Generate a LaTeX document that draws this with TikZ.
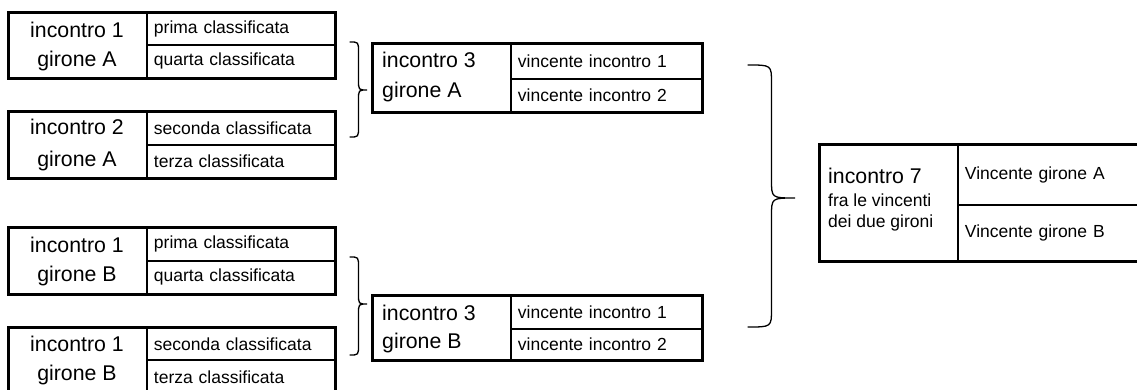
\documentclass[tikz,border=0pt]{standalone}
\usepackage{fontspec}
\setmainfont{Liberation Sans}
\tikzset{
  cellbox/.style={draw, line width=1.9pt, inner ysep=0pt, anchor=north west},
  bigtext/.style={font=\fontsize{21.3}{25}\selectfont},
  smalltext/.style={font=\fontsize{17.5}{21}\selectfont},
  label/.style={inner sep=0pt},
  outerframe/.style={line width=2.6pt},
  braceline/.style={line width=1.3pt, line cap=round},
}
% empty cell: #1 name, #2 x, #3 y, #4 width, #5 height
\newcommand\ecell[5]{\node[cellbox,inner xsep=0pt,minimum width=#4pt,minimum height=#5pt] (#1) at (#2,#3) {};}
% right cell, left aligned text
\newcommand\rcellt[6]{\node[cellbox,smalltext,inner xsep=7pt,align=left,text width=#4pt-14pt,minimum height=#5pt] (#1) at (#2,#3) {#6};}
% brace: x0, x1, top, mid, bottom, r
\newcommand\mybrace[6]{%
  \draw[braceline] (#1,#3) .. controls ({(#1+#2)/2},#3) .. ({(#1+#2)/2},#3+#6)
    -- ({(#1+#2)/2},#4-#6) .. controls ({(#1+#2)/2},#4) .. (#2,#4)
    .. controls ({(#1+#2)/2},#4) .. ({(#1+#2)/2},#4+#6)
    -- ({(#1+#2)/2},#5-#6) .. controls ({(#1+#2)/2},#5) .. (#1,#5);}
\begin{document}
\begin{tikzpicture}[x=1pt,y=-1pt]
\useasboundingbox (0,0) rectangle (1137,390);
\clip (0,0) rectangle (1137,390);

% ---- girone A, incontro 1
\ecell{a1}{8}{12}{138}{65}
\node[label,bigtext,anchor=base] (a1t1) at (77,38) {incontro 1};
\node[label,bigtext,anchor=base] (a1t2) at (77,67) {girone A};
\rcellt{a1p}{146}{12}{188}{32}{prima classificata}
\rcellt{a1q}{146}{44}{188}{33}{quarta classificata}
\draw[outerframe] (a1.north west) rectangle (a1q.south east);

% ---- girone A, incontro 2
\ecell{a2}{8}{111}{138}{66}
\node[label,bigtext,anchor=base] (a2t1) at (77,135) {incontro 2};
\node[label,bigtext,anchor=base] (a2t2) at (77,167) {girone A};
\rcellt{a2s}{146}{111}{188}{33}{seconda classificata}
\rcellt{a2t}{146}{144}{188}{33}{terza classificata}
\draw[outerframe] (a2.north west) rectangle (a2t.south east);

% ---- girone B, incontro 1
\ecell{b1}{8}{227}{138}{66}
\node[label,bigtext,anchor=base] (b1t1) at (77,252) {incontro 1};
\node[label,bigtext,anchor=base] (b1t2) at (77,281) {girone B};
\rcellt{b1p}{146}{227}{188}{33}{prima classificata}
\rcellt{b1q}{146}{260}{188}{33}{quarta classificata}
\draw[outerframe] (b1.north west) rectangle (b1q.south east);

% ---- girone B, second incontro
\ecell{b2}{8}{327}{138}{66}
\node[label,bigtext,anchor=base] (b2t1) at (77,351) {incontro 1};
\node[label,bigtext,anchor=base] (b2t2) at (77,380) {girone B};
\rcellt{b2s}{146}{327}{188}{32}{seconda classificata}
\rcellt{b2t}{146}{359}{188}{34}{terza classificata}
\draw[outerframe] (b2.north west) rectangle (b2t.south east);

% ---- incontro 3 girone A
\ecell{a3}{372}{43}{138}{68}
\node[label,bigtext,anchor=base west] (a3t1) at (382,67.5) {incontro 3};
\node[label,bigtext,anchor=base west] (a3t2) at (382,98) {girone A};
\rcellt{a3v}{510}{43}{191}{35}{vincente incontro 1}
\rcellt{a3w}{510}{78}{191}{33}{vincente incontro 2}
\draw[outerframe] (a3.north west) rectangle (a3w.south east);

% ---- incontro 3 girone B
\ecell{b3}{372}{295}{138}{64}
\node[label,bigtext,anchor=base west] (b3t1) at (382,320) {incontro 3};
\node[label,bigtext,anchor=base west] (b3t2) at (382,348) {girone B};
\rcellt{b3v}{510}{295}{191}{33}{vincente incontro 1}
\rcellt{b3w}{510}{328}{191}{31}{vincente incontro 2}
\draw[outerframe] (b3.north west) rectangle (b3w.south east);

% ---- incontro 7
\ecell{f7}{819}{144}{138}{116}
\node[label,bigtext,anchor=base west] (f7t1) at (828,183.5) {incontro 7};
\node[label,smalltext,anchor=base west] (f7t2) at (828,206) {fra le vincenti};
\node[label,smalltext,anchor=base west] (f7t3) at (828,227) {dei due gironi};
\rcellt{f7a}{957}{144}{200}{60}{Vincente girone A}
\rcellt{f7b}{957}{204}{200}{56}{Vincente girone B}
\draw[outerframe] (f7.north west) rectangle (f7b.south east);

% ---- braces
\mybrace{350}{367}{42}{90}{137}{10}
\mybrace{350}{367}{257}{304}{355}{10}
\mybrace{748}{795}{65}{198}{327}{18}
\end{tikzpicture}
\end{document}
